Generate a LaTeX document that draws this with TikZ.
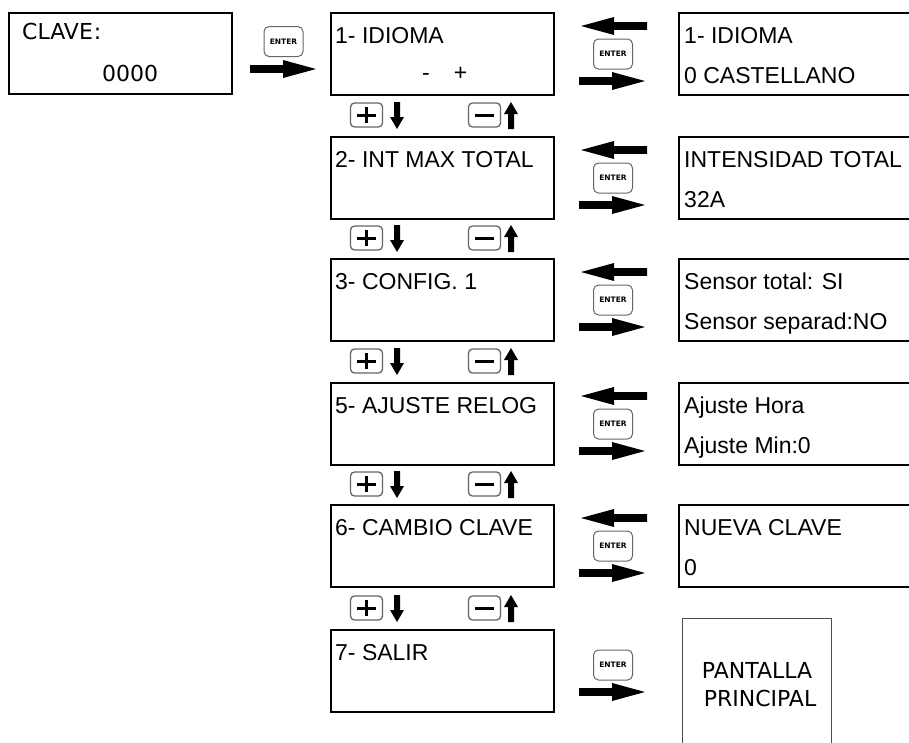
\documentclass[tikz,border=0pt]{standalone}
\usepackage{fontspec}
\setmainfont{Liberation Sans}
\newfontfamily\dvs{DejaVu Sans}
\usetikzlibrary{arrows.meta}
\tikzset{
  lcd/.style={draw=black, line width=2.2pt, minimum height=82pt, anchor=north west, inner sep=0pt, outer sep=0pt},
  midbox/.style={lcd, minimum width=223pt},
  rightbox/.style={lcd, minimum width=260pt},
  txt/.style={anchor=base west, inner sep=0pt, font=\fontsize{23}{27}\selectfont},
  dtxt/.style={inner sep=0pt, font=\dvs\fontsize{22}{26}\selectfont},
  enterkey/.style={draw=black!60, line width=1pt, rounded corners=5pt, minimum width=39pt, minimum height=30pt, inner sep=0pt, font=\dvs\bfseries\fontsize{7.5}{8}\selectfont},
  pmkey/.style={draw=black!60, line width=1.3pt, rounded corners=4pt, minimum width=32pt, minimum height=24pt, inner sep=0pt},
  sign/.style={line width=3pt},
  bigarr/.pic={\fill[black] (0,-3.8) -- (33,-3.8) -- (33,-9) -- (66,0) -- (33,9) -- (33,3.8) -- (0,3.8) -- cycle;},
  varr/.pic={\fill[black] (-3,0) -- (-3,15) -- (-7,15) -- (0,27) -- (7,15) -- (3,15) -- (3,0) -- cycle;}
}
\begin{document}
\begin{tikzpicture}[x=1pt,y=-1pt]
\useasboundingbox (0,0) rectangle (909,742);
\clip (0,0) rectangle (909,742);
\fill[white] (0,0) rectangle (909,742);

% password screen
\node[lcd, line width=2pt, minimum width=223pt, minimum height=81pt] (clave) at (9,13) {};
\node[dtxt, anchor=base west] (clavet) at (22,39) {CLAVE\kern1pt:};
\node[dtxt, anchor=base west] (claven) at (102,81) {0000};
\node[enterkey] (k0) at (283.5,41.5) {ENTER};
\pic at (250,69) {bigarr};

% menu column
\foreach \i/\t/\lab in {1/13/1- IDIOMA, 2/137/2- INT MAX TOTAL, 3/259/3- CONFIG. 1, 4/383/5- AJUSTE RELOG, 5/505/6- CAMBIO CLAVE, 6/630/7- SALIR}{
  \node[midbox] (b\i) at (331,\t) {};
  \node[txt] (b\i t) at (335,\t+30) {\lab};
}
\node[txt] (b1pm) at (422,80) {-\hspace{24pt}+};

% value screens
\foreach \i/\t/\la/\lb in {1/13/1- IDIOMA/0 CASTELLANO, 2/137/INTENSIDAD TOTAL/32A, 3/259/Sensor total: SI/Sensor separad:NO, 4/383/Ajuste Hora/Ajuste Min:0, 5/505/NUEVA CLAVE/0}{
  \node[rightbox] (r\i) at (679,\t) {};
  \node[txt] (r\i a) at (684,\t+30) {\la};
  \node[txt] (r\i b) at (684,\t+70) {\lb};
  \pic[xscale=-1] at (647,\t+13) {bigarr};
  \node[enterkey] (k\i) at (613,\t+41) {ENTER};
  \pic at (579,\t+68) {bigarr};
}

% exit
\node[enterkey] (k6) at (613,665) {ENTER};
\pic at (579,692) {bigarr};
\node[draw=black!70, line width=1pt, minimum width=149pt, minimum height=150pt, anchor=north west, inner sep=0pt] (pant) at (682,618) {};
\node[dtxt, anchor=base] (pant1) at (757,678) {PANTALLA};
\node[dtxt, anchor=base] (pant2) at (760,706) {PRINCIPAL};

% plus / minus keys between menu screens
\foreach \j/\c in {1/115, 2/238, 3/361, 4/484, 5/608}{
  \node[pmkey] (p\j) at (366.5,\c) {};
  \draw[sign] ([xshift=-9.5pt]p\j.center) -- ([xshift=9.5pt]p\j.center);
  \draw[sign] ([yshift=-8pt]p\j.center) -- ([yshift=8pt]p\j.center);
  \pic at (397,\c-13) {varr};
  \node[pmkey] (m\j) at (484.5,\c) {};
  \draw[sign] ([xshift=-9.5pt]m\j.center) -- ([xshift=9.5pt]m\j.center);
  \pic[yscale=-1] at (511,\c+14) {varr};
}
\end{tikzpicture}
\end{document}
